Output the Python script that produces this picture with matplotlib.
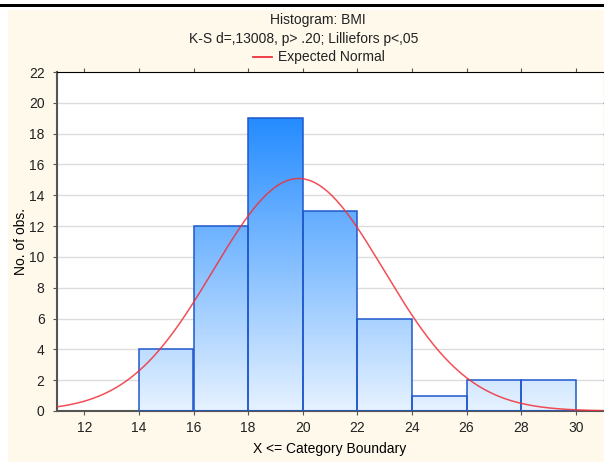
import numpy as np
import matplotlib
matplotlib.use("Agg")
from matplotlib import pyplot as plt
from matplotlib.colors import LinearSegmentedColormap
from matplotlib.path import Path
from matplotlib.patches import PathPatch, Rectangle

plt.rcParams['font.family'] = ['Liberation Sans', 'DejaVu Sans']
plt.rcParams['text.color'] = '#222222'
plt.rcParams['xtick.labelcolor'] = '#222222'
plt.rcParams['ytick.labelcolor'] = '#222222'

# histogram data (BMI)
bin_edges = [14, 16, 18, 20, 22, 24, 26, 28, 30]
counts = [4, 12, 19, 13, 6, 1, 2, 2]
# expected normal parameters
norm_mean = 19.85
norm_sd = 3.12
x_ticks = [12, 14, 16, 18, 20, 22, 24, 26, 28, 30]
y_ticks = [0, 2, 4, 6, 8, 10, 12, 14, 16, 18, 20, 22]

W, H = 604, 472
fig = plt.figure(figsize=(W / 100, H / 100), dpi=100)
fig.patch.set_facecolor('white')

# cream panel + black rule at top
fig.patches.append(Rectangle((8 / W, 1 - 462 / H), 596 / W, 452 / H,
                             transform=fig.transFigure, facecolor='#fff9ec',
                             edgecolor='none', zorder=-10))
fig.patches.append(Rectangle((0, 1 - 7 / H), 1, 3 / H, transform=fig.transFigure,
                             facecolor='black', edgecolor='none', zorder=-10))

ax = fig.add_axes([57 / W, 1 - 411 / H, 546 / W, 339 / H])
ax.set_zorder(1)
ax.set_facecolor('white')
ax.set_xlim(11, 31)
ax.set_ylim(0, 22)

for y in y_ticks[1:-1]:
    ax.axhline(y, color='#dcdcdc', lw=1, zorder=1)

# gradient fill clipped to the bars
verts, codes = [], []
for i, c in enumerate(counts):
    x0, x1 = bin_edges[i], bin_edges[i + 1]
    verts += [(x0, 0), (x1, 0), (x1, c), (x0, c), (x0, 0)]
    codes += [Path.MOVETO, Path.LINETO, Path.LINETO, Path.LINETO, Path.CLOSEPOLY]
clip = PathPatch(Path(verts, codes), transform=ax.transData, facecolor='none', edgecolor='none')
ax.add_patch(clip)
cmap = LinearSegmentedColormap.from_list('bmi', ['#e6f2ff', '#1a86ff'])
grad = np.linspace(0, 1, 256).reshape(-1, 1)
im = ax.imshow(grad, cmap=cmap, origin='lower', extent=[11, 31, 0, 20],
               aspect='auto', zorder=2, vmin=0, vmax=1)
im.set_clip_path(clip)

for i, c in enumerate(counts):
    ax.add_patch(Rectangle((bin_edges[i], 0), bin_edges[i + 1] - bin_edges[i], c,
                           facecolor='none', edgecolor='#1f58cc', lw=1.1, zorder=3))

n = sum(counts)
width = bin_edges[1] - bin_edges[0]
xs = np.linspace(11, 31, 400)
ys = n * width / (norm_sd * np.sqrt(2 * np.pi)) * np.exp(-0.5 * ((xs - norm_mean) / norm_sd) ** 2)
ax.plot(xs, ys, color='#f0303a', lw=1.1, alpha=0.85, zorder=4, clip_on=True)

ax.set_xticks(x_ticks)
ax.set_yticks(y_ticks)
ax.tick_params(axis='both', labelsize=10, length=3, color='#555555')
ax.tick_params(top=True, right=True, direction='in')
ax.tick_params(axis='y', left=True, direction='out', pad=6)
ax.tick_params(axis='x', bottom=True, direction='out', pad=4)
for s in ['left', 'bottom']:
    ax.spines[s].set_color('#555555')
    ax.spines[s].set_linewidth(1.5)
ax.spines['top'].set_color('black')
ax.spines['right'].set_visible(False)

ax.set_xlabel('X <= Category Boundary', fontsize=10, labelpad=5)
ax.set_ylabel('No. of obs.', fontsize=10)
ax.yaxis.set_label_coords(-0.053, 0.5)

fig.text(318 / W, 1 - 20 / H, 'Histogram: BMI', ha='center', va='center', fontsize=10)
fig.text(304 / W, 1 - 39 / H, 'K-S d=,13008, p> .20; Lilliefors p<,05',
         ha='center', va='center', fontsize=10)
fig.lines.append(plt.Line2D([253 / W, 272 / W], [1 - 57 / H, 1 - 57 / H],
                            transform=fig.transFigure, color='#f0303a', lw=1.3))
fig.text(278 / W, 1 - 57 / H, 'Expected Normal', ha='left', va='center', fontsize=10)

fig.savefig('out.png', dpi=100, facecolor=fig.get_facecolor())
